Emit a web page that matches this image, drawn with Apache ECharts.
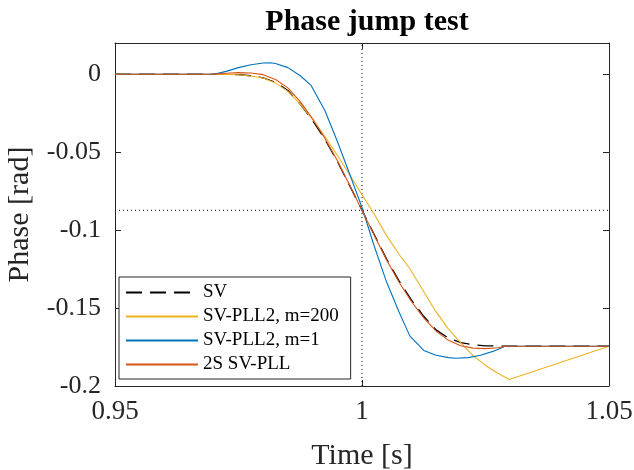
<!DOCTYPE html>
<html>
<head>
<meta charset="utf-8">
<script src="https://cdn.jsdelivr.net/npm/echarts@6/dist/echarts.min.js"></script>
<style>html,body{margin:0;padding:0;background:#fff;}#c{width:634px;height:470px;}</style>
</head>
<body>
<div id="c"></div>
<script>
// ---- data ----
const seriesNames = ['SV', 'SV-PLL2, m=200', 'SV-PLL2, m=1', '2S SV-PLL'];

const timeSV = [0.95, 0.97, 0.9725, 0.975, 0.9775, 0.98, 0.9825, 0.985, 0.9875, 0.99, 0.9925, 0.995, 0.9975, 1.0, 1.0025, 1.005, 1.0075, 1.01, 1.0125, 1.015, 1.0175, 1.02, 1.0225, 1.025, 1.0275, 1.03, 1.05];
const phaseSV = [0, 0, -0.0001, -0.0003, -0.001, -0.0023, -0.0052, -0.0105, -0.0192, -0.0297, -0.0419, -0.0558, -0.0715, -0.0873, -0.103, -0.1187, -0.1326, -0.1448, -0.1553, -0.164, -0.1693, -0.1722, -0.1735, -0.1742, -0.1744, -0.1745, -0.1745];

const timeM200 = [0.95, 0.97, 0.9725, 0.975, 0.9775, 0.98, 0.9825, 0.985, 0.9875, 0.99, 0.9925, 0.995, 0.9975, 1.0, 1.0025, 1.005, 1.0075, 1.0097, 1.0125, 1.015, 1.0175, 1.02, 1.0225, 1.025, 1.0275, 1.0298, 1.05];
const phaseM200 = [0, 0, -0.0001, -0.0004, -0.0012, -0.0025, -0.0056, -0.011, -0.0192, -0.029, -0.040, -0.052, -0.0645, -0.0773, -0.0898, -0.1037, -0.1155, -0.1248, -0.1395, -0.1525, -0.1635, -0.1723, -0.1805, -0.1868, -0.1918, -0.1958, -0.1745];

const timeM1 = [0.95, 0.97, 0.9725, 0.975, 0.9775, 0.98, 0.9815, 0.9825, 0.985, 0.9875, 0.9897, 0.9925, 0.995, 0.9975, 1.0, 1.0025, 1.005, 1.0075, 1.0097, 1.0125, 1.015, 1.0175, 1.019, 1.0215, 1.024, 1.0265, 1.029, 1.05];
const phaseM1 = [0, 0, 0.0018, 0.0042, 0.006, 0.0072, 0.0073, 0.0068, 0.0042, -0.001, -0.0072, -0.0235, -0.043, -0.064, -0.0855, -0.1105, -0.1335, -0.1525, -0.168, -0.1772, -0.1803, -0.1818, -0.1822, -0.1818, -0.1803, -0.1778, -0.1745, -0.1745];

const time2S = [0.95, 0.97, 0.9725, 0.975, 0.9775, 0.98, 0.9825, 0.985, 0.9875, 0.99, 0.9925, 0.995, 0.9975, 1.0, 1.0025, 1.005, 1.0075, 1.01, 1.0125, 1.015, 1.0175, 1.02, 1.0225, 1.025, 1.0275, 1.029, 1.05];
const phase2S = [0, 0, 0.0006, 0.001, 0.0008, -0.0003, -0.0034, -0.0088, -0.0176, -0.0286, -0.0412, -0.0553, -0.0713, -0.0874, -0.1035, -0.1193, -0.1335, -0.1458, -0.1563, -0.1648, -0.1707, -0.1742, -0.1757, -0.176, -0.1755, -0.1745, -0.1745];

// dotted reference lines (jump instant and half of the 10-degree jump)
const jumpTime = 1.0;
const halfJump = -0.0873;

const xRange = [0.95, 1.05];
const yRange = [-0.2, 0.02];
const xTicks = [0.95, 1, 1.05];
const yTicks = [-0.2, -0.15, -0.1, -0.05, 0];

// ---- chart ----
const zip = (a, b) => a.map((v, i) => [v, b[i]]);
const FONT = '"Liberation Serif", "Times New Roman", serif';
const AX = '#262626';

const chart = echarts.init(document.getElementById('c'), null, {renderer: 'canvas'});

function fmtX(v) {
  const r = Math.round(v * 100) / 100;
  return xTicks.some(t => Math.abs(t - r) < 1e-9) ? String(r) : '';
}
function fmtY(v) {
  return yTicks.some(t => Math.abs(t - v) < 1e-6) ? String(parseFloat(v.toFixed(2))) : '';
}

const baseX = {
  type: 'value', min: xRange[0], max: xRange[1], interval: 0.05,
  axisLine: {show: true, onZero: false, lineStyle: {color: AX, width: 1}},
  axisTick: {show: true, inside: true, length: 6, lineStyle: {color: AX}},
  splitLine: {show: false}
};
const baseY = {
  type: 'value', min: yRange[0], max: yRange[1], interval: 0.05,
  axisLine: {show: true, onZero: false, lineStyle: {color: AX, width: 1}},
  axisTick: {show: true, inside: true, length: 6, lineStyle: {color: AX}},
  splitLine: {show: false}
};

const refStyle = {color: '#000', width: 1, type: [1, 3]};

chart.setOption({
  animation: false,
  backgroundColor: '#fff',
  title: {
    text: 'Phase jump test',
    left: 362, top: 2, textAlign: 'center',
    textStyle: {fontFamily: FONT, fontWeight: 'bold', fontSize: 30, color: '#000'}
  },
  grid: {left: 115, right: 25, top: 43, bottom: 84, containLabel: false, outerBoundsMode: 'none'},
  legend: {
    data: seriesNames,
    orient: 'vertical',
    left: 119, top: 277,
    itemWidth: 72, itemHeight: 12, itemGap: 5,
    padding: [6, 12, 5, 6],
    borderColor: AX, borderWidth: 1, backgroundColor: '#fff',
    itemStyle: {opacity: 0},
    textStyle: {fontFamily: FONT, fontSize: 19, color: '#000'}
  },
  xAxis: [
    Object.assign({}, baseX, {
      position: 'bottom',
      name: 'Time [s]', nameLocation: 'middle', nameGap: 55,
      nameTextStyle: {fontFamily: FONT, fontSize: 30, color: AX},
      axisLabel: {show: true, margin: 12, fontFamily: FONT, fontSize: 27, color: AX, formatter: fmtX}
    }),
    Object.assign({}, baseX, {position: 'top', axisLabel: {show: false}})
  ],
  yAxis: [
    Object.assign({}, baseY, {
      position: 'left',
      name: 'Phase [rad]', nameLocation: 'middle', nameGap: 80,
      nameTextStyle: {fontFamily: FONT, fontSize: 30, color: AX},
      axisLabel: {show: true, margin: 14, fontFamily: FONT, fontSize: 26, color: AX, formatter: fmtY, showMaxLabel: false}
    }),
    Object.assign({}, baseY, {position: 'right', axisLabel: {show: false}})
  ],
  series: [
    {
      name: 'refV', type: 'line', data: [[jumpTime, yRange[0]], [jumpTime, yRange[1]]],
      symbol: 'none', silent: true, z: 1, lineStyle: refStyle
    },
    {
      name: 'refH', type: 'line', data: [[xRange[0], halfJump], [xRange[1], halfJump]],
      symbol: 'none', silent: true, z: 1, lineStyle: refStyle
    },
    {
      name: seriesNames[0], type: 'line', data: zip(timeSV, phaseSV),
      symbol: 'none', z: 2,
      lineStyle: {color: '#000', width: 1.3, type: [16, 8]},
      itemStyle: {color: '#000'}
    },
    {
      name: seriesNames[1], type: 'line', data: zip(timeM200, phaseM200),
      symbol: 'none', z: 3,
      lineStyle: {color: '#EDB120', width: 1.1},
      itemStyle: {color: '#EDB120'}
    },
    {
      name: seriesNames[2], type: 'line', data: zip(timeM1, phaseM1),
      symbol: 'none', z: 4,
      lineStyle: {color: '#0072BD', width: 1.1},
      itemStyle: {color: '#0072BD'}
    },
    {
      name: seriesNames[3], type: 'line', data: zip(time2S, phase2S),
      symbol: 'none', z: 5,
      lineStyle: {color: '#D95319', width: 1.1},
      itemStyle: {color: '#D95319'}
    }
  ]
});
</script>
</body>
</html>
